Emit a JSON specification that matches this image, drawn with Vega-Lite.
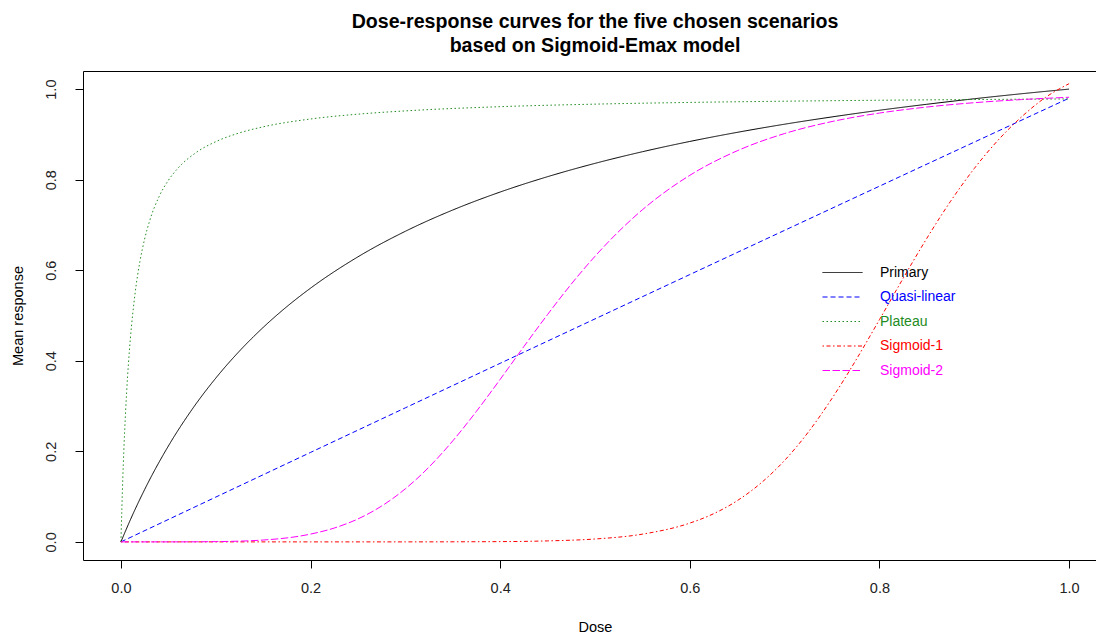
{
  "$schema": "https://vega.github.io/schema/vega-lite/v6.json",
  "autosize": {"type": "none"},
  "width": 1024,
  "height": 489,
  "padding": {"left": 83, "top": 71, "right": -11, "bottom": 75},
  "background": "white",
  "title": {
    "text": ["Dose-response curves for the five chosen scenarios", "based on Sigmoid-Emax model"],
    "font": "Liberation Sans",
    "fontSize": 19.6,
    "fontWeight": "bold",
    "color": "black",
    "lineHeight": 24,
    "anchor": "middle",
    "frame": "group",
    "offset": 14
  },
  "config": {
    "view": {"stroke": "black", "strokeWidth": 1},
    "axis": {
      "domain": false,
      "grid": false,
      "ticks": true,
      "tickColor": "black",
      "tickSize": 8,
      "labelFont": "Liberation Sans",
      "labelFontSize": 14.5,
      "labelColor": "#222222",
      "labelFlush": false,
      "labelOverlap": false,
      "titleFont": "Liberation Sans",
      "titleFontSize": 14.5,
      "titleFontWeight": "normal",
      "titleColor": "black"
    },
    "legend": {
      "labelFont": "Liberation Sans",
      "labelFontSize": 14,
      "padding": 0
    }
  },
  "data": {
    "values": [
      {"dose": 0, "response": 0, "scenario": "Primary"},
      {"dose": 0.01, "response": 0.049, "scenario": "Primary"},
      {"dose": 0.025, "response": 0.1156, "scenario": "Primary"},
      {"dose": 0.05, "response": 0.2116, "scenario": "Primary"},
      {"dose": 0.075, "response": 0.2925, "scenario": "Primary"},
      {"dose": 0.1, "response": 0.3616, "scenario": "Primary"},
      {"dose": 0.125, "response": 0.4214, "scenario": "Primary"},
      {"dose": 0.15, "response": 0.4736, "scenario": "Primary"},
      {"dose": 0.175, "response": 0.5196, "scenario": "Primary"},
      {"dose": 0.2, "response": 0.5604, "scenario": "Primary"},
      {"dose": 0.25, "response": 0.6296, "scenario": "Primary"},
      {"dose": 0.3, "response": 0.686, "scenario": "Primary"},
      {"dose": 0.35, "response": 0.733, "scenario": "Primary"},
      {"dose": 0.4, "response": 0.7727, "scenario": "Primary"},
      {"dose": 0.45, "response": 0.8066, "scenario": "Primary"},
      {"dose": 0.5, "response": 0.836, "scenario": "Primary"},
      {"dose": 0.55, "response": 0.8617, "scenario": "Primary"},
      {"dose": 0.6, "response": 0.8844, "scenario": "Primary"},
      {"dose": 0.65, "response": 0.9045, "scenario": "Primary"},
      {"dose": 0.7, "response": 0.9225, "scenario": "Primary"},
      {"dose": 0.75, "response": 0.9386, "scenario": "Primary"},
      {"dose": 0.8, "response": 0.9533, "scenario": "Primary"},
      {"dose": 0.85, "response": 0.9665, "scenario": "Primary"},
      {"dose": 0.9, "response": 0.9787, "scenario": "Primary"},
      {"dose": 0.95, "response": 0.9898, "scenario": "Primary"},
      {"dose": 1.0, "response": 1.0, "scenario": "Primary"},

      {"dose": 0, "response": 0, "scenario": "Quasi-linear"},
      {"dose": 0.1, "response": 0.0989, "scenario": "Quasi-linear"},
      {"dose": 0.2, "response": 0.1976, "scenario": "Quasi-linear"},
      {"dose": 0.3, "response": 0.2961, "scenario": "Quasi-linear"},
      {"dose": 0.4, "response": 0.3944, "scenario": "Quasi-linear"},
      {"dose": 0.5, "response": 0.4925, "scenario": "Quasi-linear"},
      {"dose": 0.6, "response": 0.5904, "scenario": "Quasi-linear"},
      {"dose": 0.7, "response": 0.6881, "scenario": "Quasi-linear"},
      {"dose": 0.8, "response": 0.7856, "scenario": "Quasi-linear"},
      {"dose": 0.9, "response": 0.8829, "scenario": "Quasi-linear"},
      {"dose": 1.0, "response": 0.98, "scenario": "Quasi-linear"},

      {"dose": 0, "response": 0, "scenario": "Plateau"},
      {"dose": 0.002, "response": 0.1414, "scenario": "Plateau"},
      {"dose": 0.004, "response": 0.2475, "scenario": "Plateau"},
      {"dose": 0.006, "response": 0.33, "scenario": "Plateau"},
      {"dose": 0.008, "response": 0.396, "scenario": "Plateau"},
      {"dose": 0.01, "response": 0.45, "scenario": "Plateau"},
      {"dose": 0.015, "response": 0.55, "scenario": "Plateau"},
      {"dose": 0.02, "response": 0.6188, "scenario": "Plateau"},
      {"dose": 0.025, "response": 0.6689, "scenario": "Plateau"},
      {"dose": 0.03, "response": 0.7071, "scenario": "Plateau"},
      {"dose": 0.04, "response": 0.7615, "scenario": "Plateau"},
      {"dose": 0.05, "response": 0.7984, "scenario": "Plateau"},
      {"dose": 0.06, "response": 0.825, "scenario": "Plateau"},
      {"dose": 0.08, "response": 0.8609, "scenario": "Plateau"},
      {"dose": 0.1, "response": 0.8839, "scenario": "Plateau"},
      {"dose": 0.125, "response": 0.9033, "scenario": "Plateau"},
      {"dose": 0.15, "response": 0.9167, "scenario": "Plateau"},
      {"dose": 0.2, "response": 0.934, "scenario": "Plateau"},
      {"dose": 0.25, "response": 0.9447, "scenario": "Plateau"},
      {"dose": 0.3, "response": 0.9519, "scenario": "Plateau"},
      {"dose": 0.4, "response": 0.9612, "scenario": "Plateau"},
      {"dose": 0.5, "response": 0.9668, "scenario": "Plateau"},
      {"dose": 0.6, "response": 0.9706, "scenario": "Plateau"},
      {"dose": 0.7, "response": 0.9733, "scenario": "Plateau"},
      {"dose": 0.8, "response": 0.9754, "scenario": "Plateau"},
      {"dose": 0.9, "response": 0.977, "scenario": "Plateau"},
      {"dose": 1.0, "response": 0.9783, "scenario": "Plateau"},

      {"dose": 0, "response": 0, "scenario": "Sigmoid-1"},
      {"dose": 0.1, "response": 0, "scenario": "Sigmoid-1"},
      {"dose": 0.2, "response": 0, "scenario": "Sigmoid-1"},
      {"dose": 0.3, "response": 0.00003, "scenario": "Sigmoid-1"},
      {"dose": 0.4, "response": 0.0006, "scenario": "Sigmoid-1"},
      {"dose": 0.45, "response": 0.0022, "scenario": "Sigmoid-1"},
      {"dose": 0.5, "response": 0.0064, "scenario": "Sigmoid-1"},
      {"dose": 0.55, "response": 0.0171, "scenario": "Sigmoid-1"},
      {"dose": 0.6, "response": 0.0415, "scenario": "Sigmoid-1"},
      {"dose": 0.625, "response": 0.0621, "scenario": "Sigmoid-1"},
      {"dose": 0.65, "response": 0.091, "scenario": "Sigmoid-1"},
      {"dose": 0.675, "response": 0.1299, "scenario": "Sigmoid-1"},
      {"dose": 0.7, "response": 0.18, "scenario": "Sigmoid-1"},
      {"dose": 0.725, "response": 0.2426, "scenario": "Sigmoid-1"},
      {"dose": 0.75, "response": 0.317, "scenario": "Sigmoid-1"},
      {"dose": 0.775, "response": 0.4008, "scenario": "Sigmoid-1"},
      {"dose": 0.8, "response": 0.4908, "scenario": "Sigmoid-1"},
      {"dose": 0.825, "response": 0.5821, "scenario": "Sigmoid-1"},
      {"dose": 0.85, "response": 0.6706, "scenario": "Sigmoid-1"},
      {"dose": 0.875, "response": 0.7522, "scenario": "Sigmoid-1"},
      {"dose": 0.9, "response": 0.8246, "scenario": "Sigmoid-1"},
      {"dose": 0.925, "response": 0.8869, "scenario": "Sigmoid-1"},
      {"dose": 0.95, "response": 0.9389, "scenario": "Sigmoid-1"},
      {"dose": 0.975, "response": 0.9815, "scenario": "Sigmoid-1"},
      {"dose": 1.0, "response": 1.012, "scenario": "Sigmoid-1"},

      {"dose": 0, "response": 0, "scenario": "Sigmoid-2"},
      {"dose": 0.05, "response": 0, "scenario": "Sigmoid-2"},
      {"dose": 0.1, "response": 0.0006, "scenario": "Sigmoid-2"},
      {"dose": 0.15, "response": 0.0041, "scenario": "Sigmoid-2"},
      {"dose": 0.2, "response": 0.0172, "scenario": "Sigmoid-2"},
      {"dose": 0.225, "response": 0.0306, "scenario": "Sigmoid-2"},
      {"dose": 0.25, "response": 0.0507, "scenario": "Sigmoid-2"},
      {"dose": 0.275, "response": 0.0792, "scenario": "Sigmoid-2"},
      {"dose": 0.3, "response": 0.1173, "scenario": "Sigmoid-2"},
      {"dose": 0.325, "response": 0.1654, "scenario": "Sigmoid-2"},
      {"dose": 0.35, "response": 0.2231, "scenario": "Sigmoid-2"},
      {"dose": 0.375, "response": 0.2885, "scenario": "Sigmoid-2"},
      {"dose": 0.4, "response": 0.359, "scenario": "Sigmoid-2"},
      {"dose": 0.425, "response": 0.4314, "scenario": "Sigmoid-2"},
      {"dose": 0.45, "response": 0.5022, "scenario": "Sigmoid-2"},
      {"dose": 0.475, "response": 0.5694, "scenario": "Sigmoid-2"},
      {"dose": 0.5, "response": 0.6308, "scenario": "Sigmoid-2"},
      {"dose": 0.55, "response": 0.7335, "scenario": "Sigmoid-2"},
      {"dose": 0.6, "response": 0.8096, "scenario": "Sigmoid-2"},
      {"dose": 0.65, "response": 0.8638, "scenario": "Sigmoid-2"},
      {"dose": 0.7, "response": 0.9019, "scenario": "Sigmoid-2"},
      {"dose": 0.75, "response": 0.9284, "scenario": "Sigmoid-2"},
      {"dose": 0.8, "response": 0.9471, "scenario": "Sigmoid-2"},
      {"dose": 0.85, "response": 0.9604, "scenario": "Sigmoid-2"},
      {"dose": 0.9, "response": 0.97, "scenario": "Sigmoid-2"},
      {"dose": 0.95, "response": 0.9769, "scenario": "Sigmoid-2"},
      {"dose": 1.0, "response": 0.982, "scenario": "Sigmoid-2"}
    ]
  },
  "mark": {"type": "line", "strokeWidth": 1, "interpolate": "monotone"},
  "encoding": {
    "x": {
      "field": "dose",
      "type": "quantitative",
      "scale": {"domain": [-0.04, 1.04], "nice": false, "zero": false},
      "axis": {
        "title": "Dose",
        "values": [0, 0.2, 0.4, 0.6, 0.8, 1.0],
        "format": ".1f",
        "labelPadding": 13,
        "labelBaseline": "top",
        "titlePadding": 26
      }
    },
    "y": {
      "field": "response",
      "type": "quantitative",
      "scale": {"domain": [-0.04, 1.04], "nice": false, "zero": false},
      "axis": {
        "title": "Mean response",
        "values": [0, 0.2, 0.4, 0.6, 0.8, 1.0],
        "format": ".1f",
        "labelAngle": 270,
        "labelAlign": "center",
        "labelBaseline": "alphabetic",
        "labelPadding": 20,
        "titlePadding": 18
      }
    },
    "color": {
      "field": "scenario",
      "type": "nominal",
      "scale": {
        "domain": ["Primary", "Quasi-linear", "Plateau", "Sigmoid-1", "Sigmoid-2"],
        "range": ["black", "blue", "#228B22", "red", "magenta"]
      },
      "legend": {
        "title": null,
        "orient": "none",
        "legendX": 749,
        "legendY": 191,
        "symbolType": "M-2,0H2",
        "symbolSize": 400,
        "symbolStrokeWidth": 1,
        "labelOffset": 27,
        "rowPadding": 6.5,
        "encode": {
          "symbols": {"update": {"stroke": {"scale": "color", "field": "value"}, "strokeDash": {"scale": "strokeDash", "field": "value"}}},
          "labels": {"update": {"fill": {"scale": "color", "field": "value"}}}
        }
      }
    },
    "strokeDash": {
      "field": "scenario",
      "type": "nominal",
      "scale": {
        "domain": ["Primary", "Quasi-linear", "Plateau", "Sigmoid-1", "Sigmoid-2"],
        "range": [[1, 0], [5, 3], [1.5, 2.5], [1.5, 2.5, 4, 2.5], [7.5, 2.5]]
      },
      "legend": {
        "title": null,
        "orient": "none",
        "legendX": 749,
        "legendY": 191,
        "symbolType": "M-2,0H2",
        "symbolSize": 400,
        "symbolStrokeWidth": 1,
        "labelOffset": 27,
        "rowPadding": 6.5,
        "encode": {
          "symbols": {"update": {"stroke": {"scale": "color", "field": "value"}, "strokeDash": {"scale": "strokeDash", "field": "value"}}},
          "labels": {"update": {"fill": {"scale": "color", "field": "value"}}}
        }
      }
    }
  }
}
